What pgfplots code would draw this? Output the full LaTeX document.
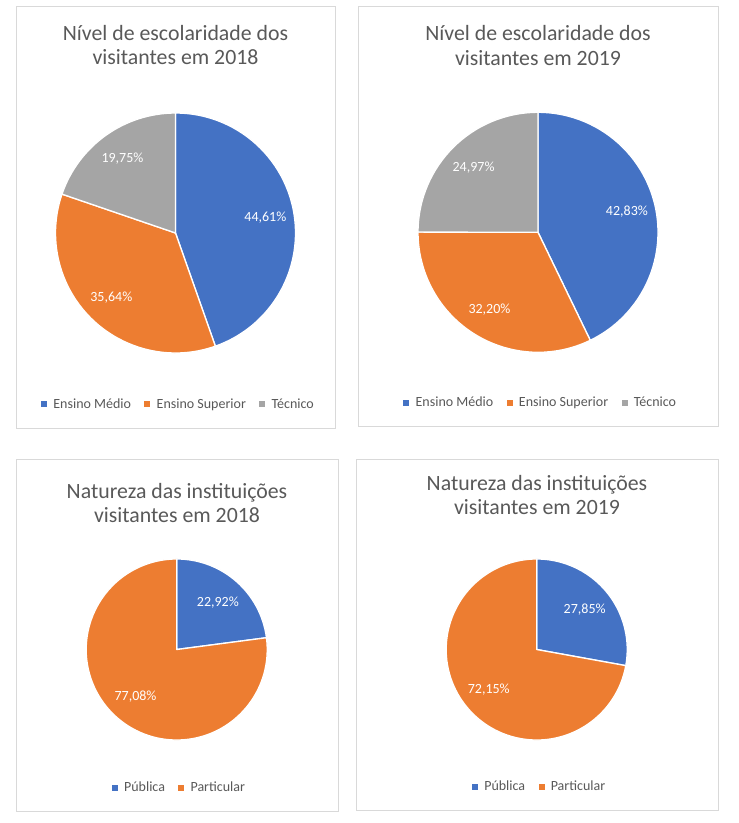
\documentclass[border=0pt]{standalone}
\usepackage{pgfplots}
\pgfplotsset{compat=1.18}
\usepackage{pgfplotstable}
\usepackage{fontspec}
\setmainfont{Carlito}
\definecolor{cblue}{HTML}{4472C4}
\definecolor{corange}{HTML}{ED7D31}
\definecolor{cgray}{HTML}{A5A5A5}
\definecolor{ctext}{HTML}{595959}
\definecolor{cborder}{HTML}{D9D9D9}

\pgfplotstableread{
value color
44.61 cblue
35.64 corange
19.75 cgray
}\escA
\pgfplotstableread{
value color
42.83 cblue
32.20 corange
24.97 cgray
}\escB
\pgfplotstableread{
value color
22.92 cblue
77.08 corange
}\natA
\pgfplotstableread{
value color
27.85 cblue
72.15 corange
}\natB

% #1 table, #2 radius (pt), #3 label distance (fraction of radius)
\newcommand\pieslices[3]{%
  \pgfplotstablegetrowsof{#1}%
  \pgfmathtruncatemacro\lastrow{\pgfplotsretval-1}%
  \def\cumsum{0}%
  \pgfplotsforeachungrouped \pieidx in {0,...,\lastrow}{%
    \pgfplotstablegetelem{\pieidx}{value}\of{#1}\let\val\pgfplotsretval
    \pgfplotstablegetelem{\pieidx}{color}\of{#1}\let\col\pgfplotsretval
    \pgfmathsetmacro\aS{90-3.6*\cumsum}%
    \pgfmathsetmacro\aE{90-3.6*(\cumsum+\val)}%
    \pgfmathsetmacro\xS{cos(\aS)}%
    \pgfmathsetmacro\yS{sin(\aS)}%
    \pgfmathsetmacro\cumsum{\cumsum+\val}%
    \edef\doslice{\noexpand\filldraw[fill=\col, draw=white, line width=1pt, line join=round]
      (axis cs:0,0) -- (axis cs:\xS,\yS) arc[start angle=\aS, end angle=\aE, radius=#2] -- cycle;}%
    \doslice
  }%
  \def\cumsum{0}%
  \pgfplotsforeachungrouped \pieidx in {0,...,\lastrow}{%
    \pgfplotstablegetelem{\pieidx}{value}\of{#1}\let\val\pgfplotsretval
    \pgfmathsetmacro\aM{90-3.6*(\cumsum+\val/2)}%
    \pgfmathsetmacro\xM{#3*cos(\aM)}%
    \pgfmathsetmacro\yM{#3*sin(\aM)}%
    \pgfmathsetmacro\cumsum{\cumsum+\val}%
    \edef\dolabel{\noexpand\node[text=white, font=\noexpand\fontsize{10.5}{12}\noexpand\selectfont, anchor=center]
      at (axis cs:\xM,\yM) {\noexpand\pgfmathprintnumber[fixed, fixed zerofill, precision=2, use comma, assume math mode=true]{\val}\noexpand\%};}%
    \dolabel
  }%
}

\pgfplotsset{
  pieaxis/.style={
    hide axis, scale only axis, anchor=center, clip=false,
    xmin=-1.05, xmax=1.05, ymin=-1.05, ymax=1.05,
    legend columns=-1,
    legend style={draw=none, fill=none, anchor=center, inner sep=0pt,
      font=\fontsize{10.5}{12}\selectfont, text=ctext,
      /tikz/every even column/.append style={column sep=8pt}},
    legend image code/.code={\path[draw=none, ##1] (0pt,-2.25pt) rectangle (4.5pt,2.25pt); \path (7pt,0pt);},
  },
}

\begin{document}
\begin{tikzpicture}
\fill[white] (0,0) rectangle (738*0.75pt,-823*0.75pt);
\path[use as bounding box] (0,0) rectangle (738*0.75pt,-823*0.75pt);
% panel borders
\draw[cborder, line width=0.75pt] (16*0.75pt,-7*0.75pt) rectangle (335*0.75pt,-428*0.75pt);
\draw[cborder, line width=0.75pt] (358*0.75pt,-7*0.75pt) rectangle (718*0.75pt,-426*0.75pt);
\draw[cborder, line width=0.75pt] (16*0.75pt,-459*0.75pt) rectangle (338*0.75pt,-811*0.75pt);
\draw[cborder, line width=0.75pt] (356*0.75pt,-459*0.75pt) rectangle (718*0.75pt,-810*0.75pt);
% titles
\begin{scope}[every node/.style={anchor=base, text=ctext, font=\fontsize{16.35}{19}\selectfont, inner sep=0pt}]
\node at (175.5*0.75pt,-41*0.75pt) {Nível de escolaridade dos};
\node at (175.5*0.75pt,-65*0.75pt) {visitantes em 2018};
\node at (538*0.75pt,-41*0.75pt) {Nível de escolaridade dos};
\node at (538*0.75pt,-65.5*0.75pt) {visitantes em 2019};
\node at (177*0.75pt,-498*0.75pt) {Natureza das instituições};
\node at (177*0.75pt,-522*0.75pt) {visitantes em 2018};
\node at (537*0.75pt,-490.7*0.75pt) {Natureza das instituições};
\node at (537*0.75pt,-514.5*0.75pt) {visitantes em 2019};
\end{scope}

\begin{axis}[pieaxis, at={(175.5*0.75pt,-233*0.75pt)}, x=90pt, y=90pt,
  legend style={at={(0.513,-0.180)}}]
  \pieslices{\escA}{90pt}{0.76}
  \addlegendimage{fill=cblue}\addlegendentry{Ensino Médio}
  \addlegendimage{fill=corange}\addlegendentry{Ensino Superior}
  \addlegendimage{fill=cgray}\addlegendentry{Técnico}
\end{axis}

\begin{axis}[pieaxis, at={(538*0.75pt,-232.3*0.75pt)}, x=90pt, y=90pt,
  legend style={at={(0.512,-0.176)}}]
  \pieslices{\escB}{90pt}{0.76}
  \addlegendimage{fill=cblue}\addlegendentry{Ensino Médio}
  \addlegendimage{fill=corange}\addlegendentry{Ensino Superior}
  \addlegendimage{fill=cgray}\addlegendentry{Técnico}
\end{axis}

\begin{axis}[pieaxis, at={(176.7*0.75pt,-649.5*0.75pt)}, x=67.9pt, y=67.9pt,
  legend style={at={(0.516,-0.227)}}]
  \pieslices{\natA}{67.9pt}{0.69}
  \addlegendimage{fill=cblue}\addlegendentry{Pública}
  \addlegendimage{fill=corange}\addlegendentry{Particular}
\end{axis}

\begin{axis}[pieaxis, at={(536.7*0.75pt,-649.5*0.75pt)}, x=67.9pt, y=67.9pt,
  legend style={at={(0.517,-0.222)}}]
  \pieslices{\natB}{67.9pt}{0.69}
  \addlegendimage{fill=cblue}\addlegendentry{Pública}
  \addlegendimage{fill=corange}\addlegendentry{Particular}
\end{axis}
\end{tikzpicture}
\end{document}
